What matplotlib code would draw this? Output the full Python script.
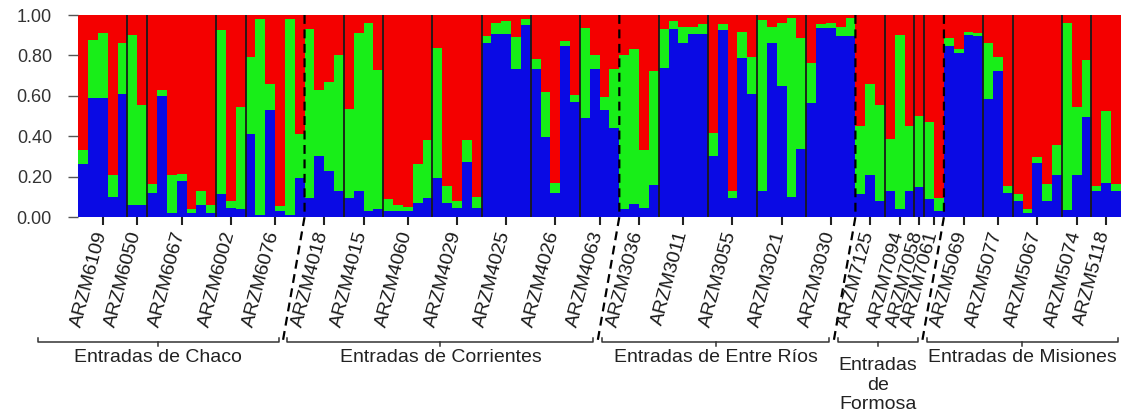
import numpy as np
import matplotlib.pyplot as plt

plt.rcParams['font.family'] = ['Liberation Sans', 'DejaVu Sans']

# ancestry coefficients per individual (K=3): blue and green, red is the rest
q_blue = [0.26, 0.59, 0.59, 0.10, 0.61, 0.06, 0.06, 0.12, 0.60, 0.02,
          0.18, 0.02, 0.06, 0.02, 0.115, 0.045, 0.04, 0.41, 0.01, 0.53,
          0.03, 0.01, 0.195, 0.095, 0.30, 0.23, 0.13, 0.095, 0.13, 0.03,
          0.04, 0.03, 0.03, 0.03, 0.07, 0.095, 0.195, 0.07, 0.045, 0.27,
          0.045, 0.86, 0.905, 0.905, 0.735, 0.95, 0.735, 0.395, 0.12, 0.845,
          0.57, 0.49, 0.735, 0.53, 0.44, 0.04, 0.065, 0.045, 0.16, 0.74,
          0.93, 0.86, 0.905, 0.905, 0.30, 0.925, 0.095, 0.785, 0.61, 0.13,
          0.86, 0.65, 0.10, 0.335, 0.565, 0.935, 0.935, 0.895, 0.895, 0.115,
          0.21, 0.08, 0.13, 0.04, 0.13, 0.15, 0.09, 0.03, 0.845, 0.81,
          0.90, 0.895, 0.585, 0.725, 0.12, 0.08, 0.02, 0.265, 0.08, 0.21,
          0.035, 0.21, 0.495, 0.13, 0.17, 0.13]
q_green = [0.07, 0.285, 0.32, 0.11, 0.25, 0.84, 0.495, 0.045, 0.03, 0.19,
           0.035, 0.02, 0.07, 0.04, 0.81, 0.035, 0.505, 0.38, 0.97, 0.13,
           0.025, 0.97, 0.215, 0.835, 0.33, 0.44, 0.67, 0.44, 0.78, 0.93,
           0.69, 0.06, 0.03, 0.02, 0.19, 0.285, 0.64, 0.085, 0.035, 0.11,
           0.055, 0.035, 0.055, 0.065, 0.155, 0.03, 0.045, 0.225, 0.05, 0.025,
           0.035, 0.445, 0.065, 0.065, 0.295, 0.76, 0.765, 0.285, 0.565, 0.19,
           0.04, 0.08, 0.035, 0.05, 0.115, 0.03, 0.035, 0.13, 0.18, 0.845,
           0.08, 0.31, 0.885, 0.55, 0.195, 0.02, 0.025, 0.045, 0.09, 0.335,
           0.45, 0.475, 0.255, 0.86, 0.32, 0.35, 0.38, 0.065, 0.04, 0.02,
           0.015, 0.015, 0.275, 0.065, 0.035, 0.035, 0.02, 0.03, 0.085, 0.145,
           0.925, 0.335, 0.28, 0.025, 0.355, 0.035]

# accessions and number of individuals in each
pops = ['ARZM6109', 'ARZM6050', 'ARZM6067', 'ARZM6002', 'ARZM6076',
        'ARZM4018', 'ARZM4015', 'ARZM4060', 'ARZM4029', 'ARZM4025', 'ARZM4026', 'ARZM4063',
        'ARZM3036', 'ARZM3011', 'ARZM3055', 'ARZM3021', 'ARZM3030',
        'ARZM7125', 'ARZM7094', 'ARZM7058', 'ARZM7061',
        'ARZM5069', 'ARZM5077', 'ARZM5067', 'ARZM5074', 'ARZM5118']
pop_n = [5, 2, 7, 3, 6,
         4, 4, 5, 5, 5, 5, 4,
         4, 5, 5, 5, 5,
         3, 3, 1, 2,
         4, 3, 5, 3, 3]

regions = ['Entradas de Chaco', 'Entradas de Corrientes', 'Entradas de Entre Ríos',
           'Entradas\nde\nFormosa', 'Entradas de Misiones']
region_npops = [5, 7, 5, 4, 5]

c_blue, c_green, c_red = '#0a0ae4', '#18ee18', '#f40000'

q_blue = np.array(q_blue)
q_green = np.array(q_green)
q_red = 1 - q_blue - q_green
n = len(q_blue)
x = np.arange(n)

fig = plt.figure(figsize=(11.21, 4.15), dpi=100)
ax = fig.add_axes([78.3 / 1121, 198 / 415, (1121 - 78.3) / 1121, 202 / 415])

ax.bar(x, q_blue, width=1, align='edge', color=c_blue, linewidth=0)
ax.bar(x, q_green, width=1, align='edge', bottom=q_blue, color=c_green, linewidth=0)
ax.bar(x, q_red, width=1, align='edge', bottom=q_blue + q_green, color=c_red, linewidth=0)

ax.set_xlim(0, n)
ax.set_ylim(0, 1)
for s in ax.spines.values():
    s.set_visible(False)

bounds = np.cumsum(pop_n)
starts = bounds - np.array(pop_n)
centers = (starts + bounds) / 2
region_ends = bounds[np.cumsum(region_npops) - 1]

# population separators, dashed between provinces
for b in bounds[:-1]:
    if b in region_ends:
        continue
    ax.axvline(b, color='#1a1a1a', lw=1.3)

xt = ax.get_xaxis_transform()
shift = 2.24
drop = -0.624
for b in region_ends[:-1]:
    ax.plot([b, b, b - shift], [1, 0, drop], color='black', lw=1.6,
            dashes=(4, 2.5), clip_on=False, transform=xt)

ax.set_yticks([0, 0.2, 0.4, 0.6, 0.8, 1.0])
ax.set_yticklabels(['0.00', '0.20', '0.40', '0.60', '0.80', '1.00'])
ax.tick_params(axis='y', length=7, width=1, color='#555555', pad=12,
               labelsize=13, labelcolor='#333333')
ax.set_xticks(centers)
ax.set_xticklabels([])
ax.tick_params(axis='x', length=6, width=1.5, color='#222222')

for c, name in zip(centers, pops):
    ax.text(c - 0.1, -0.07, name, transform=xt, rotation=75,
            rotation_mode='anchor', ha='right', va='center',
            fontsize=14, color='#1a1a1a')

# province brackets below the labels
dash_low = [b - shift for b in region_ends[:-1]]
lefts = [-4.1] + [d + 0.5 for d in dash_low]
rights = [d - 0.4 for d in dash_low] + [105.7]
yb = -0.617
hook = 0.02
for lo, hi, label in zip(lefts, rights, regions):
    mid = (lo + hi) / 2
    ax.plot([lo, lo, hi, hi], [yb + hook, yb, yb, yb + hook], color='#333333',
            lw=1.1, clip_on=False, transform=xt)
    ax.plot([mid, mid], [yb, yb - hook], color='#333333', lw=1.1,
            clip_on=False, transform=xt)
    if '\n' in label:
        ax.text(mid, -0.832, label, transform=xt, ha='center', va='center',
                fontsize=14, color='#222222', linespacing=1.2)
    else:
        ax.text(mid, -0.698, label, transform=xt, ha='center', va='center',
                fontsize=14, color='#222222')

fig.savefig('out.png', dpi=100)
